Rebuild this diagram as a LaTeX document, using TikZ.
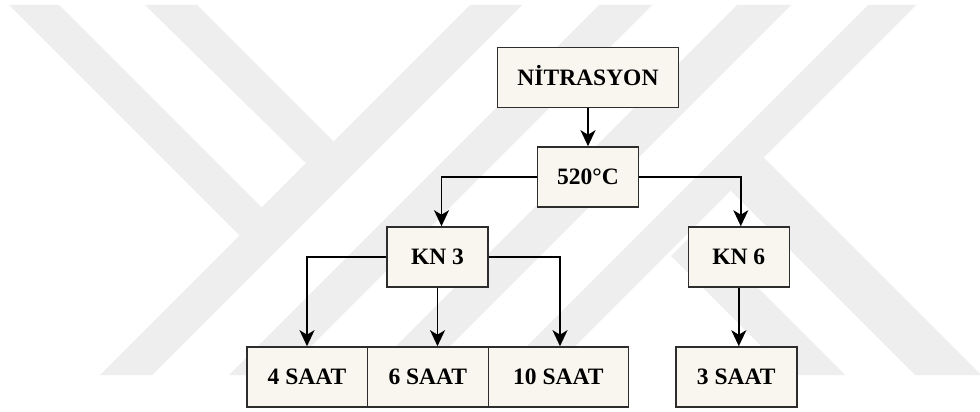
\documentclass[tikz,border=0pt]{standalone}
\usepackage{fontspec}
\setmainfont{Liberation Serif}[BoldFont={Liberation Serif Bold}]
\newfontfamily\tnrfont{Liberation Serif}[BoldFont={Liberation Serif Bold}]
\usetikzlibrary{arrows.meta}
\definecolor{boxfill}{RGB}{248,246,238}
\definecolor{boxline}{RGB}{45,45,45}
\definecolor{wm}{RGB}{238,238,238}
\begin{document}
\begin{tikzpicture}[x=1pt,y=-1pt,
  box/.style={draw=boxline, line width=1.6pt, fill=boxfill, minimum height=60pt,
    inner sep=0pt, text height=15.6pt, text depth=0pt,
    font=\tnrfont\fontsize{23.5}{28}\selectfont\bfseries},
  conn/.style={line width=1.8pt, draw=black, -{Stealth[length=16pt,width=15pt,inset=4.5pt]}},
  wmark/.style={fill=wm, draw=none}]
\useasboundingbox (0,0) rectangle (980,412);
\fill[white] (0,0) rectangle (980,412);
% watermark
\fill[wmark] (9,5) -- (59,5) -- (261.5,207.5) -- (306,163) -- (145,5) -- (197,5)
  -- (333.5,141.5) -- (470,5) -- (522,5) -- (152,375) -- (100,375) -- (239.5,235.5) -- cycle;
\fill[wmark] (599,5) -- (652,5) -- (282,375) -- (229,375) -- cycle;
\fill[wmark] (737,5) -- (791,5) -- (421,375) -- (367,375) -- cycle;
\fill[wmark] (868,5) -- (916,5) -- (546,375) -- (498,375) -- cycle;
\fill[wmark] (763.5,157.5) -- (980,374) -- (980,375) -- (915,375) -- (730.5,190.5) -- cycle;
\fill[wmark] (671,256) -- (698.5,228.5) -- (845,375) -- (790,375) -- cycle;
% nodes
\node[box, minimum width=181pt] (nit) at (588,77.5) {NİTRASYON};
\node[box, minimum width=101pt] (t520) at (588,177) {520°C};
\node[box, minimum width=101pt] (kn3) at (437.5,257) {KN 3};
\node[box, minimum width=101pt] (kn6) at (738.8,257) {KN 6};
\node[box, minimum width=120.6pt] (s4) at (307,377) {4 SAAT};
\node[box, minimum width=121pt] (s6) at (427.8,377) {6 SAAT};
\node[box, minimum width=140pt] (s10) at (558.3,377) {10 SAAT};
\node[box, minimum width=121pt] (s3) at (736.2,377) {3 SAAT};
% connectors
\draw[conn] (nit.south) -- (t520.north);
\draw[conn] (t520.west) -| ([xshift=4pt]kn3.north);
\draw[conn] (t520.east) -| ([xshift=2pt]kn6.north);
\draw[conn] (kn3.west) -| (s4.north);
\draw[conn] (kn3.south) -- (kn3.south |- s6.north);
\draw[conn] (kn3.east) -| ([xshift=1.7pt]s10.north);
\draw[conn] (kn6.south) -- (kn6.south |- s3.north);
\end{tikzpicture}
\end{document}
